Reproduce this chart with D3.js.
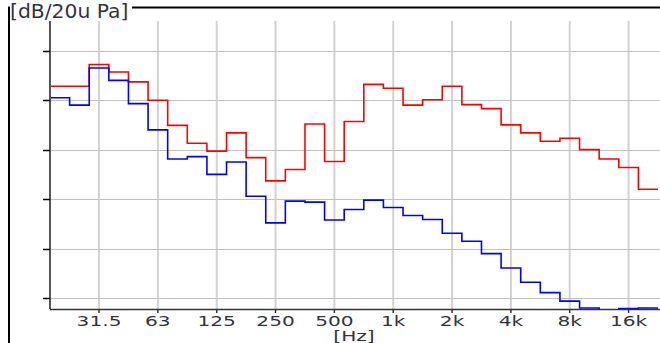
<!DOCTYPE html>
<html>
<head>
<meta charset="utf-8">
<script src="https://cdn.jsdelivr.net/npm/d3@7"></script>
<style>
  html, body { margin: 0; padding: 0; background: #ffffff; }
  svg { display: block; }
  text { font-family: "DejaVu Sans", Verdana, sans-serif; fill: #33333f; }
</style>
</head>
<body>
<svg id="chart" width="660" height="343"></svg>
<script>
(function () {
  "use strict";

  // 1/3 octave band labels, 20 Hz .. 20 kHz
  var bandLabels = ["20", "25", "31.5", "40", "50", "63", "80", "100", "125", "160", "200",
    "250", "315", "400", "500", "630", "800", "1k", "1.25k", "1.6k", "2k", "2.5k", "3.15k",
    "4k", "5k", "6.3k", "8k", "10k", "12.5k", "16k", "20k"];

  // band levels [dB]
  var redLevels = [62.8, 62.8, 67.2, 65.7, 63.7, 60.0, 54.9, 51.3, 49.7, 53.4, 48.4,
    43.7, 46.0, 55.2, 47.6, 55.7, 63.2, 62.4, 59.0, 60.1, 62.8, 59.1, 58.3,
    55.0, 53.4, 51.7, 52.3, 50.0, 48.1, 46.4, 42.0];
  var blueLevels = [60.5, 59.0, 66.5, 64.0, 59.3, 54.0, 48.1, 48.6, 45.0, 47.5, 40.6,
    35.2, 39.6, 39.4, 35.8, 37.9, 39.8, 38.3, 36.7, 35.9, 33.1, 31.5, 29.0,
    26.1, 23.2, 21.1, 19.4, 18.0, 16.5, 17.9, 18.0];

  // octave ticks on the frequency axis
  var tickFreqs = [31.25, 62.5, 125, 250, 500, 1000, 2000, 4000, 8000, 16000];
  var tickLabels = ["31.5", "63", "125", "250", "500", "1k", "2k", "4k", "8k", "16k"];
  var levelTicks = [20, 30, 40, 50, 60, 70];

  var width = 660, height = 343;
  var left = 50, right = 658, top = 21, bottom = 309;
  var stretch = 1.47;

  // exact base-2 band centres, first band is 20 Hz (n = -17)
  function centre(i) { return 1000 * Math.pow(2, (i - 17) / 3); }
  var fLow = centre(0) * Math.pow(2, -1 / 6);
  var fHigh = centre(bandLabels.length - 1) * Math.pow(2, 1 / 6);

  var x = d3.scaleLog().base(2).domain([fLow, fHigh]).range([left, right]);
  var y = d3.scaleLinear().domain([17.8, 76]).range([bottom, top]);

  var svg = d3.select("#chart");

  svg.append("defs").append("clipPath").attr("id", "plotClip")
    .append("rect").attr("x", left).attr("y", top)
    .attr("width", width - left).attr("height", bottom - top);

  // frame
  svg.append("line").attr("x1", 8).attr("x2", width).attr("y1", 7.5).attr("y2", 7.5)
    .attr("stroke", "#000").attr("stroke-width", 2);
  svg.append("line").attr("x1", 9).attr("x2", 9).attr("y1", 7).attr("y2", height)
    .attr("stroke", "#000").attr("stroke-width", 2);

  // grid
  svg.append("g").selectAll("line").data(tickFreqs).join("line")
    .attr("x1", function (d) { return x(d); }).attr("x2", function (d) { return x(d); })
    .attr("y1", top).attr("y2", bottom)
    .attr("stroke", "#d2d2d2").attr("stroke-width", 2);
  svg.append("g").selectAll("line").data(levelTicks).join("line")
    .attr("x1", left).attr("x2", width)
    .attr("y1", function (d) { return Math.round(y(d)) + 0.5; })
    .attr("y2", function (d) { return Math.round(y(d)) + 0.5; })
    .attr("stroke", "#c2c2c2").attr("stroke-width", 1);

  // step traces
  function steps(levels) {
    var pts = [];
    levels.forEach(function (v, i) {
      pts.push([centre(i) * Math.pow(2, -1 / 6), v]);
      pts.push([centre(i) * Math.pow(2, 1 / 6), v]);
    });
    return pts;
  }
  var line = d3.line()
    .x(function (d) { return x(d[0]); })
    .y(function (d) { return y(d[1]); });

  var traces = svg.append("g").attr("clip-path", "url(#plotClip)");
  traces.append("path").datum(steps(redLevels))
    .attr("d", line).attr("fill", "none").attr("stroke", "#ff0000").attr("stroke-width", 1.6);
  traces.append("path").datum(steps(blueLevels))
    .attr("d", line).attr("fill", "none").attr("stroke", "#0000ff").attr("stroke-width", 1.6);

  // axes
  svg.append("line").attr("x1", left).attr("x2", left).attr("y1", top).attr("y2", bottom)
    .attr("stroke", "#555").attr("stroke-width", 2);
  svg.append("line").attr("x1", left).attr("x2", width).attr("y1", bottom + 0.5).attr("y2", bottom + 0.5)
    .attr("stroke", "#333").attr("stroke-width", 1.5);

  svg.append("g").selectAll("line").data(levelTicks).join("line")
    .attr("x1", left - 7).attr("x2", left)
    .attr("y1", function (d) { return Math.round(y(d)) + 0.5; })
    .attr("y2", function (d) { return Math.round(y(d)) + 0.5; })
    .attr("stroke", "#000").attr("stroke-width", 1.5);

  svg.append("g").selectAll("line").data(tickFreqs).join("line")
    .attr("x1", function (d) { return x(d); }).attr("x2", function (d) { return x(d); })
    .attr("y1", bottom).attr("y2", bottom + 4)
    .attr("stroke", "#333").attr("stroke-width", 1.5);

  svg.append("g").selectAll("text").data(tickFreqs).join("text")
    .attr("transform", function (d) { return "translate(" + x(d) + ",326) scale(" + stretch + ",1)"; })
    .attr("text-anchor", "middle")
    .attr("font-size", 13.7)
    .text(function (d, i) { return tickLabels[i]; });

  svg.append("text")
    .attr("transform", "translate(354,341) scale(" + stretch + ",1)")
    .attr("text-anchor", "middle").attr("font-size", 13.7)
    .text("[Hz]");

  // unit title over the frame
  svg.append("rect").attr("x", 10).attr("y", 0).attr("width", 122).attr("height", 20).attr("fill", "#fff");
  svg.append("text")
    .attr("transform", "translate(10,18) scale(1.07,1)")
    .attr("font-size", 19)
    .text("[dB/20u Pa]");
})();
</script>
</body>
</html>
